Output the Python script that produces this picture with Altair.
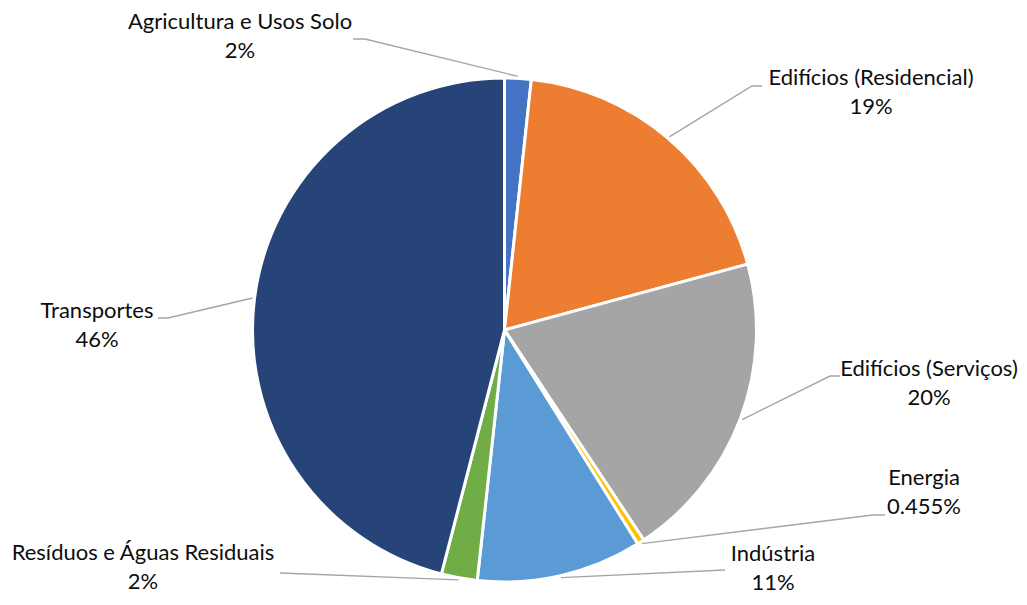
import math
import altair as alt
import pandas as pd

# ---- data ----
categories = [
    "Agricultura e Usos Solo",
    "Edifícios (Residencial)",
    "Edifícios (Serviços)",
    "Energia",
    "Indústria",
    "Resíduos e Águas Residuais",
    "Transportes",
]
values = [1.7, 19.1, 19.9, 0.455, 10.6, 2.3, 46.0]
pct_labels = ["2%", "19%", "20%", "0.455%", "11%", "2%", "46%"]
colors = ["#4472C4", "#ED7D31", "#A5A5A5", "#FFC000", "#5B9BD5", "#70AD47", "#264478"]

# ---- layout (chart pixel space, y measured from top) ----
W, H = 1011, 589
CX, CY, R = 496.5, 322.0, 252.0
RIM = 254.0
# label first-line centre, then leader-line elbow points (label side)
label_pos = [(232, 14), (863, 70), (921, 361), (916, 470), (765, 546), (135, 545), (89, 303)]
leader_pts = [
    [(357, 31), (345, 31)],
    [(744, 78), (754, 78)],
    [(822, 368), (832, 368)],
    [(865, 507), (877, 507)],
    [(717, 562)],
    [(272, 565)],
    [(160, 310), (150, 310)],
]

total = sum(values)
pie_df = pd.DataFrame({"category": categories, "value": values, "idx": list(range(len(values)))})

# leader lines start at slice mid-angle on the rim
line_rows = []
cum = 0.0
for i, (cat, v) in enumerate(zip(categories, values)):
    mid = (cum + v / 2) / total * 2 * math.pi
    cum += v
    sx = CX + RIM * math.sin(mid)
    sy = CY - RIM * math.cos(mid)
    pts = [(sx, sy)] + leader_pts[i]
    for j, (px, py) in enumerate(pts):
        line_rows.append({"category": cat, "seq": j, "x": px, "y": py})
line_df = pd.DataFrame(line_rows)

text_df = pd.DataFrame({
    "category": categories,
    "label": [f"{c}\n{p}" for c, p in zip(categories, pct_labels)],
    "x": [p[0] for p in label_pos],
    "y": [p[1] for p in label_pos],
})

xs = alt.Scale(domain=[0, W], nice=False, zero=False)
ys = alt.Scale(domain=[0, H], nice=False, zero=False, reverse=True)

pie = alt.Chart(pie_df).mark_arc(outerRadius=R, stroke="white", strokeWidth=3).encode(
    theta=alt.Theta("value:Q", stack=True),
    order=alt.Order("idx:Q"),
    color=alt.Color("category:N", scale=alt.Scale(domain=categories, range=colors), legend=None),
    x=alt.value(CX),
    y=alt.value(CY),
)

lines = alt.Chart(line_df).mark_line(color="#A5A5A5", strokeWidth=1.4).encode(
    x=alt.X("x:Q", scale=xs, axis=None),
    y=alt.Y("y:Q", scale=ys, axis=None),
    detail="category:N",
    order="seq:Q",
)

texts = alt.Chart(text_df).mark_text(
    lineBreak="\n", font="Lato", fontSize=22, lineHeight=29,
    align="center", baseline="middle", color="#0d0d0d",
).encode(
    x=alt.X("x:Q", scale=xs, axis=None),
    y=alt.Y("y:Q", scale=ys, axis=None),
    text="label:N",
)

chart = alt.layer(lines, pie, texts).properties(
    width=W, height=H, padding=0, autosize=alt.AutoSizeParams(type="none")
).configure_view(stroke=None).resolve_scale(x="shared", y="shared")

chart.save("out.html", embed_options={"renderer": "svg", "actions": False})
